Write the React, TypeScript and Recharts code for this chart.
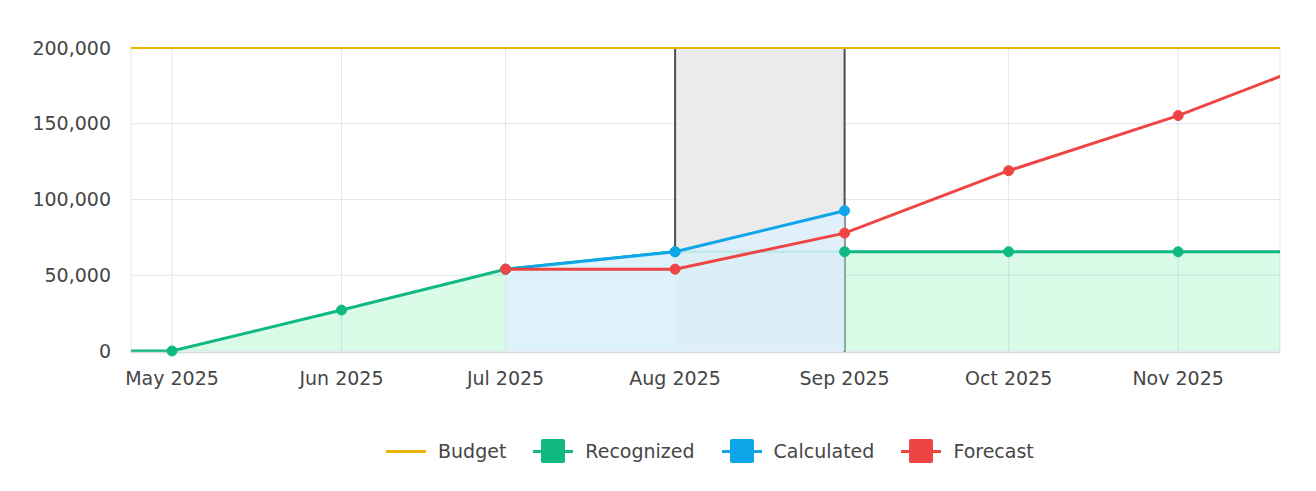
import {
  ComposedChart,
  Area,
  Line,
  XAxis,
  YAxis,
  CartesianGrid,
  ReferenceArea,
  ReferenceLine,
} from "recharts";

// month points (first and last sit outside the visible window)
const months = [
  "2025-04-01",
  "2025-05-01",
  "2025-06-01",
  "2025-07-01",
  "2025-08-01",
  "2025-09-01",
  "2025-10-01",
  "2025-11-01",
  "2025-12-01",
];
const budget = [200000, 200000, 200000, 200000, 200000, 200000, 200000, 200000, 200000];
const recognized = [0, 0, 27000, 54000, 65500, 65500, 65500, 65500, 65500];
const calculated = [null, null, null, 54000, 65500, 92600, null, null, null];
const forecast = [null, null, null, 54000, 54000, 77800, 119000, 155400, 197000];

const tickDates = ["2025-05-01", "2025-06-01", "2025-07-01", "2025-08-01", "2025-09-01", "2025-10-01", "2025-11-01"];
const tickLabels = ["May 2025", "Jun 2025", "Jul 2025", "Aug 2025", "Sep 2025", "Oct 2025", "Nov 2025"];
const yTicks = [0, 50000, 100000, 150000, 200000];

const viewWindow = ["2025-04-23T12:00:00Z", "2025-11-19T15:00:00Z"];
const closedPeriod = ["2025-08-01", "2025-09-01"];

const colors = {
  budget: "#eab308",
  recognized: "#10b981",
  calculated: "#0ea5e9",
  forecast: "#ef4444",
};

const legendItems = [
  { name: "Budget", color: colors.budget, marker: false },
  { name: "Recognized", color: colors.recognized, marker: true },
  { name: "Calculated", color: colors.calculated, marker: true },
  { name: "Forecast", color: colors.forecast, marker: true },
];

const data = months.map((m, i) => ({
  t: Date.parse(m),
  budget: budget[i],
  recognized: recognized[i],
  calculated: calculated[i],
  forecast: forecast[i],
}));

const tickTs = tickDates.map((d) => Date.parse(d));
const closedStart = Date.parse(closedPeriod[0]);
const closedEnd = Date.parse(closedPeriod[1]);
const calcAtClosedStart = calculated[months.indexOf(closedPeriod[0])] ?? 0;

const font = "'DejaVu Sans', Verdana, sans-serif";
const textColor = "#464646";

const dotStyle = (c: string) => ({ r: 5, fill: c, fillOpacity: 1, stroke: c, strokeWidth: 1 });

export default function App() {
  return (
    <div
      style={{
        position: "absolute",
        left: 0,
        top: 0,
        width: 1316,
        height: 491,
        background: "#fff",
        fontFamily: font,
      }}
    >
      <ComposedChart
        width={1316}
        height={491}
        data={data}
        margin={{ top: 48, right: 36, left: 0, bottom: 98.5 }}
      >
        <CartesianGrid stroke="#e0e7f0" strokeWidth={1} />
        <ReferenceArea
          x1={closedStart}
          x2={closedEnd}
          y1={0}
          y2={200000}
          fill="#ebebeb"
          fillOpacity={1}
          stroke="none"
          zIndex={-150}
        />
        <ReferenceLine
          segment={[
            { x: closedStart, y: 200000 },
            { x: closedStart, y: calcAtClosedStart },
          ]}
          stroke="#4a4f55"
          strokeWidth={2}
          zIndex={50}
        />
        <ReferenceLine x={closedEnd} stroke="#4a4f55" strokeWidth={2} zIndex={50} />
        <XAxis
          dataKey="t"
          type="number"
          domain={[Date.parse(viewWindow[0]), Date.parse(viewWindow[1])]}
          allowDataOverflow
          ticks={tickTs}
          interval={0}
          tickFormatter={(v: number) => tickLabels[tickTs.indexOf(v)] ?? ""}
          axisLine={{ stroke: "#d4d8e0", strokeWidth: 1.5 }}
          tickLine={false}
          tickSize={0}
          tickMargin={19}
          height={40}
          tick={{ fill: textColor, fontSize: 19, fontFamily: font }}
        />
        <YAxis
          type="number"
          domain={[-1000, 200000]}
          ticks={yTicks}
          width={131}
          axisLine={false}
          tickLine={false}
          tickSize={0}
          tickMargin={20}
          tickFormatter={(v: number) => v.toLocaleString("en-US")}
          tick={{ fill: textColor, fontSize: 19, fontFamily: font }}
        />
        <Area
          dataKey="recognized"
          type="linear"
          baseValue={0}
          stroke={colors.recognized}
          strokeWidth={3}
          fill="#41eb8c"
          fillOpacity={0.2}
          dot={dotStyle(colors.recognized)}
          activeDot={false}
          isAnimationActive={false}
        />
        <Area
          dataKey="calculated"
          type="linear"
          baseValue={0}
          stroke={colors.calculated}
          strokeWidth={3}
          fill="#def0fc"
          fillOpacity={0.86}
          dot={dotStyle(colors.calculated)}
          activeDot={false}
          isAnimationActive={false}
        />
        <Line
          dataKey="budget"
          type="linear"
          stroke={colors.budget}
          strokeWidth={2}
          dot={false}
          activeDot={false}
          isAnimationActive={false}
        />
        <Line
          dataKey="forecast"
          type="linear"
          stroke={colors.forecast}
          strokeWidth={3}
          dot={dotStyle(colors.forecast)}
          activeDot={false}
          isAnimationActive={false}
        />
      </ComposedChart>
      <div
        style={{
          position: "absolute",
          left: 386,
          top: 439,
          height: 24,
          display: "flex",
          alignItems: "center",
          fontSize: 19,
          color: textColor,
          whiteSpace: "nowrap",
        }}
      >
        {legendItems.map((item) => (
          <div key={item.name} style={{ display: "flex", alignItems: "center", marginRight: 27 }}>
            <div style={{ position: "relative", width: 40, height: 24, marginRight: 12 }}>
              <div
                style={{
                  position: "absolute",
                  left: 0,
                  top: 10.5,
                  width: 40,
                  height: 3,
                  background: item.color,
                }}
              />
              {item.marker && (
                <div
                  style={{
                    position: "absolute",
                    left: 8,
                    top: 0,
                    width: 24,
                    height: 24,
                    borderRadius: 2,
                    background: item.color,
                  }}
                />
              )}
            </div>
            <span>{item.name}</span>
          </div>
        ))}
      </div>
    </div>
  );
}
